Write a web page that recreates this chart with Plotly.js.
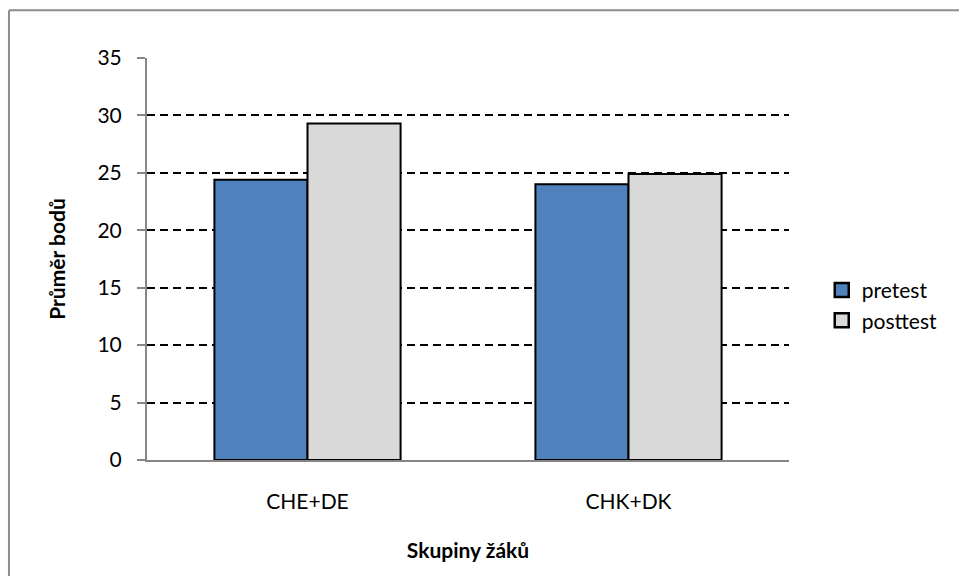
<!DOCTYPE html>
<html>
<head>
<meta charset="utf-8">
<script src="https://cdn.plot.ly/plotly-3.0.1.min.js"></script>
<style>
  html, body { margin: 0; padding: 0; background: #fff; }
  #chart { width: 959px; height: 576px; }
</style>
</head>
<body>
<div id="chart"></div>
<script>
// Skupiny žáků a průměrné body v pretestu a posttestu
const groups = ['CHE+DE', 'CHK+DK'];
const seriesNames = ['pretest', 'posttest'];
const pretest = [24.4, 24.0];
const posttest = [29.3, 24.9];
const yTicks = [0, 5, 10, 15, 20, 25, 30, 35];
const colors = ['#4f81bd', '#d9d9d9'];

const font = "Lato, 'Open Sans', sans-serif";

const traces = [pretest, posttest].map((vals, i) => ({
  type: 'bar', name: seriesNames[i], x: groups, y: vals,
  showlegend: false,
  marker: { color: colors[i], line: { color: '#000', width: 2 } }
}));

// legend entries drawn as square markers with a heavy outline
seriesNames.forEach((name, i) => {
  traces.push({
    type: 'scatter', mode: 'markers', name: name,
    x: [null], y: [null],
    marker: { symbol: 'square', size: 14, color: colors[i], line: { color: '#000', width: 2.5 } }
  });
});

const layout = {
  width: 959, height: 576,
  margin: { l: 147, r: 170, t: 58, b: 116 },
  paper_bgcolor: '#fff', plot_bgcolor: '#fff',
  font: { family: font, size: 21, color: '#000' },
  barmode: 'group', bargap: 0.42, bargroupgap: 0,
  showlegend: true,
  legend: {
    x: 1.051, xanchor: 'left', y: 0.473, yanchor: 'top',
    font: { family: font, size: 21, color: '#000' },
    itemwidth: 30, tracegroupgap: 0
  },
  xaxis: {
    type: 'category',
    showline: true, linecolor: '#868686', linewidth: 2,
    showgrid: false, ticks: '', ticklen: 0,
    ticklabelstandoff: 22,
    tickfont: { family: font, size: 21 },
    title: { text: 'Skupiny žáků', font: { family: font, size: 21, weight: 'bold' }, standoff: 31 }
  },
  yaxis: {
    range: [0, 35], tickvals: yTicks,
    showline: true, linecolor: '#868686', linewidth: 2,
    ticks: 'outside', ticklen: 8, tickcolor: '#868686', tickwidth: 2,
    ticklabelstandoff: 11,
    showgrid: true, gridcolor: '#000', gridwidth: 2, griddash: '8px,5px',
    zeroline: false,
    tickfont: { family: font, size: 21 },
    title: { text: 'Průměr bodů', font: { family: font, size: 21, weight: 'bold' }, standoff: 26 }
  },
  shapes: [
    // rámeček grafu (levá a horní hrana)
    { type: 'line', xref: 'paper', yref: 'paper', x0: -0.215, x1: 1.3, y0: 1.119, y1: 1.119,
      line: { color: '#8c8c8c', width: 2 } },
    { type: 'line', xref: 'paper', yref: 'paper', x0: -0.215, x1: -0.215, y0: 1.119, y1: -0.3,
      line: { color: '#8c8c8c', width: 2 } }
  ]
};

Plotly.newPlot('chart', traces, layout, { displayModeBar: false, staticPlot: true });
</script>
</body>
</html>
